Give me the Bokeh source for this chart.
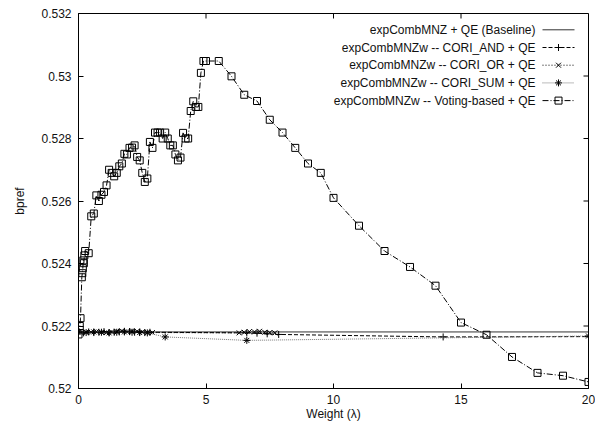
from bokeh.plotting import figure
from bokeh.models import FixedTicker, Range1d
from bokeh.core.properties import value
from bokeh.embed import file_html
from bokeh.resources import INLINE

# ---------------- data ----------------
x_ticks = [0, 5, 10, 15, 20]
x_tick_labels = ["0", "5", "10", "15", "20"]
y_ticks = [0.52, 0.522, 0.524, 0.526, 0.528, 0.53, 0.532]
y_tick_labels = ["0.52", "0.522", "0.524", "0.526", "0.528", "0.53", "0.532"]

series_names = [
    "expCombMNZ + QE (Baseline)",
    "expCombMNZw -- CORI_AND + QE",
    "expCombMNZw -- CORI_OR + QE",
    "expCombMNZw -- CORI_SUM + QE",
    "expCombMNZw -- Voting-based + QE",
]

baseline_x = [0, 20]
baseline_y = [0.52181, 0.52181]

cori_and_x = [0.0, 0.2, 0.4, 0.6, 0.8, 1.0, 1.2, 1.4, 1.6, 1.8, 2.0, 2.2, 2.4, 2.6, 2.8,
              6.6, 7.0, 7.4, 7.85, 14.3, 20.0]
cori_and_y = [0.52180, 0.52178, 0.52181, 0.52179, 0.52180, 0.52182, 0.52179, 0.52180,
              0.52181, 0.52183, 0.52182, 0.52180, 0.52181, 0.52179, 0.52180,
              0.52178, 0.52177, 0.52175, 0.52173, 0.52165, 0.52166]

cori_or_x = [0.1, 0.3, 0.5, 0.7, 0.9, 1.1, 1.3, 1.5, 1.7, 1.9, 2.1, 2.3, 2.5, 2.7, 2.9,
             6.3, 6.5, 6.7, 6.9, 7.1, 7.3, 7.5, 7.7]
cori_or_y = [0.52179, 0.52181, 0.52180, 0.52182, 0.52180, 0.52179, 0.52181, 0.52183,
             0.52184, 0.52182, 0.52185, 0.52183, 0.52181, 0.52180, 0.52179,
             0.52178, 0.52180, 0.52182, 0.52181, 0.52183, 0.52180, 0.52179, 0.52178]

cori_sum_x = [0.0, 0.3, 0.6, 0.9, 1.2, 1.5, 1.8, 2.1, 2.4, 2.7, 3.4, 6.6, 20.0]
cori_sum_y = [0.52180, 0.52179, 0.52181, 0.52180, 0.52178, 0.52180, 0.52181, 0.52180,
              0.52179, 0.52178, 0.52165, 0.52154, 0.52168]

voting_x = [0.0, 0.05, 0.08, 0.13, 0.15, 0.17, 0.19, 0.21, 0.23, 0.26, 0.4,
            0.5, 0.6, 0.7, 0.8, 0.9, 1.0, 1.1, 1.2, 1.3, 1.4, 1.5, 1.6, 1.7, 1.8, 1.9,
            2.0, 2.1, 2.2, 2.3, 2.4, 2.5, 2.6, 2.7, 2.8, 2.9, 3.0, 3.1, 3.2, 3.3, 3.4,
            3.5, 3.6, 3.7, 3.8, 3.9, 4.0, 4.1, 4.2, 4.3, 4.4, 4.5, 4.6, 4.7, 4.8, 4.9,
            5.0, 5.5, 6.0, 6.5, 7.0, 7.5, 8.0, 8.5, 9.0, 9.5, 10.0,
            11, 12, 13, 14, 15, 16, 17, 18, 19, 20]
voting_y = [0.52173, 0.52200, 0.52225, 0.52356, 0.52369, 0.52385, 0.52410, 0.52401,
            0.52426, 0.52440, 0.52433,
            0.52551, 0.52560, 0.52618, 0.52600, 0.52620, 0.52629, 0.52650, 0.52700,
            0.52690, 0.52679, 0.52690, 0.52711, 0.52720, 0.52751, 0.52749,
            0.52770, 0.52771, 0.52778, 0.52741, 0.52730, 0.52690, 0.52661, 0.52672,
            0.52789, 0.52770, 0.52819, 0.52819, 0.52819, 0.52800, 0.52819,
            0.52800, 0.52778, 0.52778, 0.52749, 0.52730, 0.52739, 0.52818, 0.52800,
            0.52800, 0.52888, 0.52919, 0.52901, 0.52901, 0.53010, 0.53048,
            0.53048, 0.53048, 0.52999, 0.52940, 0.52920, 0.52860, 0.52819, 0.52770,
            0.52720, 0.52690, 0.52610,
            0.52521, 0.52440, 0.52389, 0.52329, 0.52211, 0.52172, 0.52101, 0.52050,
            0.52041, 0.52021]

# ---------------- layout ----------------
X0, X1 = 0, 20
Y0, Y1 = 0.52, 0.532
W, H = 595, 427
FL, FR, FT, FB = 78, 588, 13, 388   # frame edges in canvas px
TICK = 5

FONT = "Liberation Sans"

p = figure(width=W, height=H, output_backend="svg", toolbar_location=None,
           x_range=Range1d(X0, X1), y_range=Range1d(Y0, Y1),
           min_border_left=FL, min_border_right=W - FR,
           min_border_top=FT, min_border_bottom=H - FB,
           x_axis_label="Weight (λ)", y_axis_label="bpref")
p.background_fill_color = "white"
p.border_fill_color = "white"
p.outline_line_color = "black"
p.outline_line_width = 1
p.grid.visible = False

def style_axis(ax):
    ax.axis_line_color = "black"
    ax.major_tick_in = TICK
    ax.major_tick_out = 0
    ax.minor_tick_in = 0
    ax.minor_tick_out = 0
    ax.major_tick_line_color = "black"
    ax.major_label_text_font = FONT
    ax.major_label_text_font_size = "12px"
    ax.major_label_text_color = "#111111"
    ax.axis_label_text_font = FONT
    ax.axis_label_text_font_size = "12px"
    ax.axis_label_text_font_style = "normal"
    ax.axis_label_text_color = "#111111"

xax = p.xaxis[0]
yax = p.yaxis[0]
xax.ticker = FixedTicker(ticks=x_ticks)
yax.ticker = FixedTicker(ticks=y_ticks)
xax.major_label_overrides = dict(zip(x_ticks, x_tick_labels))
yax.major_label_overrides = dict(zip(y_ticks, y_tick_labels))
style_axis(xax)
style_axis(yax)
xax.major_label_standoff = 6
xax.axis_label_standoff = 0
yax.major_label_standoff = 7
yax.axis_label_standoff = 11

# mirrored inward ticks on top and right edges (gnuplot style)
dy_tick = TICK * (Y1 - Y0) / (FB - FT)
dx_tick = TICK * (X1 - X0) / (FR - FL)
p.segment(x0=x_ticks, y0=[Y1] * len(x_ticks), x1=x_ticks, y1=[Y1 - dy_tick] * len(x_ticks),
          line_color="black", line_width=1)
p.segment(x0=[X1] * len(y_ticks), y0=y_ticks, x1=[X1 - dx_tick] * len(y_ticks), y1=y_ticks,
          line_color="black", line_width=1)

# ---------------- series ----------------
styles = [
    dict(color="#333333", dash="solid", marker=None, width=1),
    dict(color="black", dash="4 2", marker="cross", width=1),
    dict(color="black", dash="1 2", marker="x", width=1),
    dict(color="#777777", dash="1 1", marker="asterisk", width=1),
    dict(color="black", dash="6 2 1 2", marker="square", width=1),
]
data = [
    (baseline_x, baseline_y),
    (cori_and_x, cori_and_y),
    (cori_or_x, cori_or_y),
    (cori_sum_x, cori_sum_y),
    (voting_x, voting_y),
]
MS = 7
for (xs, ys), st in zip(data, styles):
    p.line(xs, ys, line_color=st["color"], line_dash=st["dash"], line_width=st["width"])
    if st["marker"] == "square":
        p.scatter(xs, ys, marker="square", size=MS, fill_color=None,
                  line_color="black", line_width=1)
    elif st["marker"]:
        p.scatter(xs, ys, marker=st["marker"], size=7, line_color="black", line_width=1)

# ---------------- legend (gnuplot style: label, then sample) ----------------
def cx(px):
    return X0 + (px - FL) / (FR - FL) * (X1 - X0)

def cy(py):
    return Y1 - (py - FT) / (FB - FT) * (Y1 - Y0)

LEG_TEXT_R = 535
LEG_S0, LEG_S1 = 542, 574
LEG_ROWS = [29.3, 47.0, 64.7, 82.4, 100.1]

p.text(x=[cx(LEG_TEXT_R)] * 5, y=[cy(r) for r in LEG_ROWS], text=series_names,
       text_align="right", text_baseline="middle", text_font=value(FONT),
       text_font_size="12px", text_color="#111111")
for row, st in zip(LEG_ROWS, styles):
    p.line([cx(LEG_S0), cx(LEG_S1)], [cy(row), cy(row)], line_color=st["color"],
           line_dash=st["dash"], line_width=st["width"])
    mx, my = cx((LEG_S0 + LEG_S1) / 2), cy(row)
    if st["marker"] == "square":
        p.scatter([mx], [my], marker="square", size=MS, fill_color=None,
                  line_color="black", line_width=1)
    elif st["marker"]:
        p.scatter([mx], [my], marker=st["marker"], size=7, line_color="black", line_width=1)

open("out.html", "w").write(file_html(p, INLINE))
